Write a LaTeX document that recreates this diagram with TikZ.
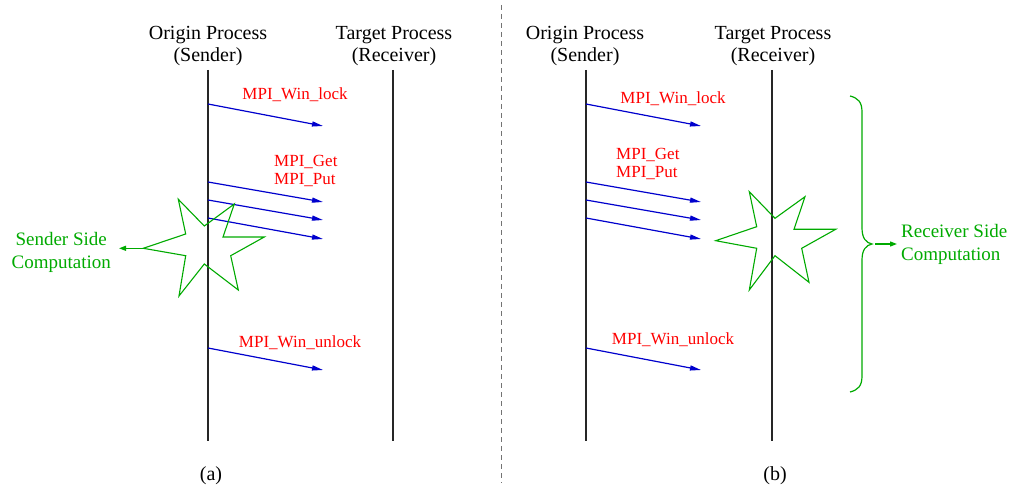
\documentclass[tikz,border=0pt]{standalone}
\usepackage{fontspec}
\setmainfont{Liberation Serif}
\usetikzlibrary{arrows.meta}
\definecolor{msgblue}{RGB}{0,0,205}
\definecolor{lblred}{RGB}{255,0,0}
\definecolor{compgreen}{RGB}{0,170,0}
\begin{document}
\begin{tikzpicture}[x=1pt,y=-1pt,
  lifeline/.style={line width=1.1pt, black!85},
  msg/.style={msgblue, line width=1.2pt, -{Triangle[length=11pt,width=5pt]}},
  head/.style={font=\fontsize{20}{22}\selectfont, align=center, inner sep=0pt},
  call/.style={text=lblred, font=\fontsize{17}{18}\selectfont, inner sep=0pt},
  comp/.style={text=compgreen, font=\fontsize{19}{23}\selectfont, inner sep=0pt},
  burst/.style={compgreen, line width=1.1pt, line join=miter},
  garrow/.style={compgreen, line width=1.2pt, -{Triangle[length=7pt,width=5pt]}},
  divider/.style={black!55, line width=1pt, dash pattern=on 5pt off 4pt},
  caption/.style={font=\fontsize{20}{22}\selectfont, inner sep=0pt}]

\useasboundingbox (0,0) rectangle (1012,486);

% divider
\coordinate (dtop) at (501,5);
\coordinate (dbot) at (501,483);
\draw[divider] (dtop) -- (dbot);

% ---------------- panel (a) ----------------
\node[head] (aorig) at (208,46) {Origin Process\\(Sender)};
\node[head] (atarg) at (394,46) {Target Process\\(Receiver)};
\coordinate (aOt) at (208,70); \coordinate (aOb) at (208,441);
\coordinate (aTt) at (393,70); \coordinate (aTb) at (393,441);
\draw[lifeline] (aOt) -- (aOb);
\draw[lifeline] (aTt) -- (aTb);

\foreach \n/\sy/\ey in {a1/104/126, a2/182/202, a3/200/220, a4/218/239, a5/348/370}{
  \coordinate (\n s) at (208,\sy);
  \coordinate (\n e) at (323,\ey);
  \draw[msg] (\n s) -- (\n e);
}
\node[call] (alock) at (295,95) {MPI\_Win\_lock};
\node[call, anchor=west, align=left] (agetput) at (274,171) {MPI\_Get\\MPI\_Put};
\node[call] (aunlock) at (300,343) {MPI\_Win\_unlock};

% sender-side burst
\coordinate (aStarL) at (143.3,248.3);
\draw[burst] (178.3,199.3) -- (204.3,226) -- (234.3,204) -- (223,237) -- (264.3,237)
  -- (230.7,255.7) -- (238.3,290) -- (204.3,264) -- (179,296) -- (185.7,255.7)
  -- (aStarL) -- (185.7,234) -- cycle;
\node[comp, align=center, anchor=east] (send) at (111,252) {Sender Side\\Computation};
\draw[garrow, shorten >=8pt] (aStarL) -- (aStarL -| send.east);

\node[caption] (acap) at (211,476) {(a)};

% ---------------- panel (b) ----------------
\node[head] (borig) at (585,46) {Origin Process\\(Sender)};
\node[head] (btarg) at (773,46) {Target Process\\(Receiver)};
\coordinate (bOt) at (586,70); \coordinate (bOb) at (586,441);
\coordinate (bTt) at (772,70); \coordinate (bTb) at (772,441);
\draw[lifeline] (bOt) -- (bOb);
\draw[lifeline] (bTt) -- (bTb);

\foreach \n/\sy/\ey in {b1/104/126, b2/182/202, b3/200/220, b4/218/239, b5/348/370}{
  \coordinate (\n s) at (586,\sy);
  \coordinate (\n e) at (701,\ey);
  \draw[msg] (\n s) -- (\n e);
}
\node[call] (block) at (673,99) {MPI\_Win\_lock};
\node[call, anchor=west, align=left] (bgetput) at (616,164) {MPI\_Get\\MPI\_Put};
\node[call] (bunlock) at (673,340) {MPI\_Win\_unlock};

% receiver-side burst
\draw[burst] (749.3,191.7) -- (775,218.3) -- (805,196.7) -- (794,229.3) -- (835.7,229.3)
  -- (801.7,248.3) -- (809,282.3) -- (775,255.7) -- (749.3,290) -- (756.7,248.3)
  -- (715.7,240.7) -- (756.7,226.7) -- cycle;

% brace
\coordinate (bTip) at (872,244);
\draw[compgreen, line width=1.2pt] (850,96) .. controls (858,98) and (862,102) .. (862,112)
  -- (862,228) .. controls (862,238) and (866,243) .. (bTip)
  .. controls (866,245) and (862,250) .. (862,260)
  -- (862,376) .. controls (862,386) and (858,390) .. (850,392);
\node[comp, align=left, anchor=west] (recv) at (901,244) {Receiver Side\\Computation};
\draw[garrow, shorten <=3pt, shorten >=4pt] (bTip) -- (recv.west);

\node[caption] (bcap) at (775,476) {(b)};
\end{tikzpicture}
\end{document}
